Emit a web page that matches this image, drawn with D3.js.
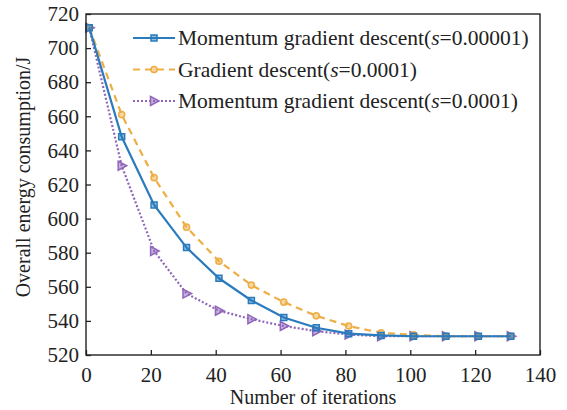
<!DOCTYPE html>
<html>
<head>
<meta charset="utf-8">
<script src="https://cdn.jsdelivr.net/npm/d3@7"></script>
<style>
  body { margin: 0; background: #fff; }
  svg text, svg tspan { font-family: "Liberation Serif", "Times New Roman", serif; fill: #222; }
</style>
</head>
<body>
<svg width="567" height="410"></svg>
<script>
"use strict";

// iterations at which the values were recorded
var iterations = [1, 11, 21, 31, 41, 51, 61, 71, 81, 91, 101, 111, 121, 131];

// momentum gradient descent, s = 0.00001
var momentumSmall = [712, 648, 608, 583, 565, 552, 542, 536, 532.5, 531.5, 531, 531, 531, 531];
// gradient descent, s = 0.0001
var gradient = [712, 661, 624, 595, 575, 561, 551, 543, 537, 533, 531.8, 531, 531, 531];
// momentum gradient descent, s = 0.0001
var momentumLarge = [712, 631, 581, 556, 546, 541, 537, 534, 532, 531, 531, 531, 531, 531];

var xTicks = [0, 20, 40, 60, 80, 100, 120, 140];
var yTicks = [520, 540, 560, 580, 600, 620, 640, 660, 680, 700, 720];

var seriesNames = [
    ["Momentum gradient descent(", "s", "=0.00001)"],
    ["Gradient descent(", "s", "=0.0001)"],
    ["Momentum gradient descent(", "s", "=0.0001)"]
];

var serif = "'Liberation Serif', 'Times New Roman', serif";

window.onload = renderMyChart;

function renderMyChart() {
    var svg = d3.select("svg"),
        margin = { top: 14, right: 27, bottom: 55, left: 86 },
        width = +svg.attr("width") - margin.left - margin.right,
        height = +svg.attr("height") - margin.top - margin.bottom;

    var x = d3.scaleLinear().domain([0, 140]).range([0, width]),
        y = d3.scaleLinear().domain([520, 720]).range([height, 0]);

    var g = svg.append("g")
        .attr("transform", "translate(" + margin.left + "," + margin.top + ")");

    var series = [
        { values: momentumSmall, color: "#2a7bbd", dash: null, marker: "square" },
        { values: gradient, color: "#eeae45", dash: "7,5", marker: "circle" },
        { values: momentumLarge, color: "#9066bb", dash: "2,2", marker: "triangle" }
    ];

    var line = d3.line()
        .x(function (d) { return x(d[0]); })
        .y(function (d) { return y(d[1]); });

    // draw in reverse so the blue line sits on top
    series.slice().reverse().forEach(function (s) {
        var pts = iterations.map(function (it, i) { return [it, s.values[i]]; });
        g.append("path")
            .datum(pts)
            .attr("fill", "none")
            .attr("stroke", s.color)
            .attr("stroke-width", 2.2)
            .attr("stroke-dasharray", s.dash)
            .attr("d", line);
        g.selectAll(null)
            .data(pts)
            .enter().append("path")
            .attr("transform", function (d) { return "translate(" + x(d[0]) + "," + y(d[1]) + ")"; })
            .attr("d", markerPath(s.marker))
            .attr("fill", s.color)
            .attr("fill-opacity", 0.5)
            .attr("stroke", s.color)
            .attr("stroke-width", 1.5);
    });

    // axes, ticks pointing inward
    var xAxis = g.append("g")
        .attr("transform", "translate(0," + height + ")")
        .call(d3.axisBottom(x).tickValues(xTicks).tickSizeInner(-5).tickSizeOuter(0).tickPadding(12));
    var yAxis = g.append("g")
        .call(d3.axisLeft(y).tickValues(yTicks).tickSizeInner(-5).tickSizeOuter(0).tickPadding(7));

    [xAxis, yAxis].forEach(function (a) {
        a.attr("font-family", null).attr("font-size", null);
        a.select(".domain").remove();
        a.selectAll(".tick line").attr("stroke", "#222").attr("stroke-width", 1.3);
        a.selectAll(".tick text")
            .style("font-family", serif)
            .style("font-size", "21px")
            .attr("fill", "#222");
    });

    // frame
    g.append("rect")
        .attr("width", width)
        .attr("height", height)
        .attr("fill", "none")
        .attr("stroke", "#222")
        .attr("stroke-width", 1.4);

    svg.append("text")
        .attr("x", margin.left + width / 2)
        .attr("y", 404)
        .attr("text-anchor", "middle")
        .style("font-family", serif)
        .style("font-size", "20px")
        .text("Number of iterations");

    svg.append("text")
        .attr("transform", "translate(30,177) rotate(-90)")
        .attr("text-anchor", "middle")
        .style("font-family", serif)
        .style("font-size", "20px")
        .text("Overall energy consumption/J");

    // legend
    var legend = g.append("g").attr("transform", "translate(47,24)");
    series.forEach(function (s, i) {
        var row = legend.append("g").attr("transform", "translate(0," + (i * 31.5) + ")");
        row.append("line")
            .attr("x1", 0).attr("x2", 42)
            .attr("stroke", s.color)
            .attr("stroke-width", 2.2)
            .attr("stroke-dasharray", s.dash);
        row.append("path")
            .attr("transform", "translate(21,0)")
            .attr("d", markerPath(s.marker))
            .attr("fill", s.color)
            .attr("fill-opacity", 0.5)
            .attr("stroke", s.color)
            .attr("stroke-width", 1.5);
        var t = row.append("text")
            .attr("x", 45)
            .attr("y", 7)
            .style("font-family", serif)
            .style("font-size", "21.5px");
        t.append("tspan").text(seriesNames[i][0]);
        t.append("tspan").style("font-style", "italic").text(seriesNames[i][1]);
        t.append("tspan").text(seriesNames[i][2]);
    });
}

function markerPath(kind) {
    if (kind === "square") return "M-3,-3H3V3H-3Z";
    if (kind === "circle") return d3.symbol(d3.symbolCircle, 30)();
    return "M-3.5,-4.5L5,0L-3.5,4.5Z";
}
</script>
</body>
</html>
